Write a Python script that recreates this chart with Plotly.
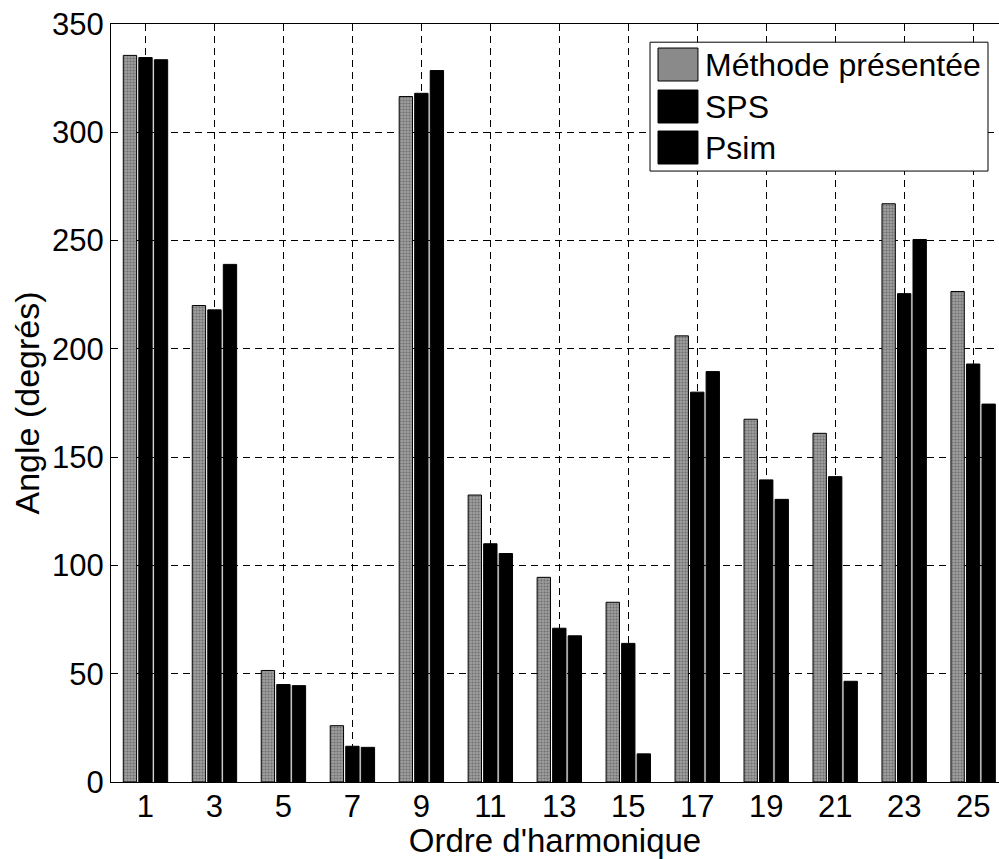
import plotly.graph_objects as go

# Harmonic orders and phase angles (degrees) from the three methods
harmonics = [1, 3, 5, 7, 9, 11, 13, 15, 17, 19, 21, 23, 25]
methode = [335.5, 220, 51.5, 26, 316.5, 132.5, 94.5, 83, 206, 167.5, 161, 267, 226.5]
sps = [334.5, 218, 45, 16.5, 318, 110, 71, 64, 180, 139.5, 141, 225.5, 193]
psim = [333.5, 239, 44.5, 16, 328.5, 105.5, 67.5, 13, 189.5, 130.5, 46.5, 250.5, 174.5]

series_names = ["Méthode présentée", "SPS", "Psim"]
y_ticks = [0, 50, 100, 150, 200, 250, 300, 350]

FONT = "Liberation Sans, Arial, sans-serif"
GRAY = "#8a8a8a"

fig = go.Figure()

fig.add_trace(go.Bar(
    x=harmonics, y=methode, name=series_names[0],
    marker=dict(color=GRAY, line=dict(color="black", width=1),
                pattern=dict(shape=".", fgcolor="#404040", bgcolor="#9e9e9e",
                             size=3, solidity=0.4)),
))
fig.add_trace(go.Bar(
    x=harmonics, y=sps, name=series_names[1],
    marker=dict(color="black", line=dict(color="black", width=1)),
))
fig.add_trace(go.Bar(
    x=harmonics, y=psim, name=series_names[2],
    marker=dict(color="black", line=dict(color="black", width=1)),
))

# Boxed legend with large swatches, drawn in paper coordinates
legend_box = dict(x0=0.607, x1=0.9876, y0=0.806, y1=0.976)
swatch_x = (0.616, 0.661)
rows = [(0.9248, 0.9683), (0.8694, 0.9129), (0.8153, 0.8588)]
swatch_colors = [GRAY, "black", "black"]

shapes = [dict(type="rect", xref="paper", yref="paper", layer="above",
               line=dict(color="black", width=1), fillcolor="white", **legend_box)]
annotations = []
for name, col, (y0, y1) in zip(series_names, swatch_colors, rows):
    shapes.append(dict(type="rect", xref="paper", yref="paper", layer="above",
                       x0=swatch_x[0], x1=swatch_x[1], y0=y0, y1=y1,
                       fillcolor=col, line=dict(color="black", width=1)))
    annotations.append(dict(xref="paper", yref="paper", x=0.6667, y=(y0 + y1) / 2,
                            text=name, showarrow=False, xanchor="left", yanchor="middle",
                            font=dict(family=FONT, size=32, color="black")))

fig.update_layout(
    width=999, height=859,
    margin=dict(l=111, r=0, t=24, b=77),
    paper_bgcolor="white", plot_bgcolor="white",
    barmode="group", bargap=0.325, bargroupgap=0.14,
    showlegend=False,
    font=dict(family=FONT, size=31, color="black"),
    shapes=shapes, annotations=annotations,
)

fig.update_xaxes(
    range=[0, 25.75], tickvals=harmonics, ticktext=[str(h) for h in harmonics],
    ticks="inside", ticklen=7, tickwidth=1, tickcolor="black",
    ticklabelstandoff=-3,
    showline=True, linecolor="black", linewidth=1, mirror="ticks",
    showgrid=True, gridcolor="black", gridwidth=1, griddash="7px,5px",
    zeroline=False,
    title=dict(text="Ordre d'harmonique", font=dict(family=FONT, size=33), standoff=0),
    tickfont=dict(family=FONT, size=31),
)
fig.update_yaxes(
    range=[0, 350], tickvals=y_ticks,
    ticks="inside", ticklen=7, tickwidth=1, tickcolor="black",
    showline=True, linecolor="black", linewidth=1, mirror=False,
    showgrid=True, gridcolor="black", gridwidth=1, griddash="7px,5px",
    zeroline=False,
    title=dict(text="Angle (degrés)", font=dict(family=FONT, size=34), standoff=2),
    tickfont=dict(family=FONT, size=31),
)

fig.write_html("out.html")
